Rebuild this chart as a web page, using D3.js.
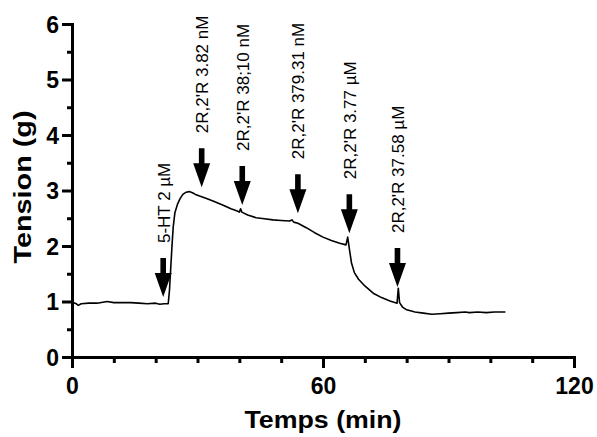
<!DOCTYPE html>
<html>
<head>
<meta charset="utf-8">
<script src="https://cdn.jsdelivr.net/npm/d3@7"></script>
<style>
  body { margin: 0; background: #fff; }
  svg { display: block; }
  .trace { fill: none; stroke: #000; stroke-width: 1.6px; stroke-linejoin: round; }
</style>
</head>
<body>
<div id="chart"></div>
<script>

// trace: time (min), tension (g)
var traceT = [0, 1.0, 1.5, 2.2, 4, 6, 8.4, 10, 12, 14, 16, 18, 20, 21, 22, 23.0,
    23.3, 23.6, 23.9, 24.2, 24.6, 25.2, 25.8, 26.5, 27.3, 28, 28.8, 29.5, 30.5, 32, 34, 36, 38, 39.5,
    40.0, 40.3, 40.6, 42, 44, 46, 48, 50, 52, 52.6, 53, 54, 56, 58, 60, 62, 64, 65.5,
    65.9, 66.3, 66.8, 67.5, 68.5, 70, 72, 74, 76, 77.7, 78.0, 78.3, 79, 80, 82, 84, 86,
    88, 90, 92, 94, 95, 97, 99, 101, 103.6];
var traceV = [0.99, 0.96, 0.93, 0.96, 0.97, 0.97, 1.0, 0.98, 0.98, 0.98, 0.97, 0.96, 0.97, 0.95, 0.96, 0.96,
    1.2, 1.6, 2.0, 2.35, 2.6, 2.75, 2.85, 2.93, 2.97, 2.98, 2.96, 2.93, 2.90, 2.86, 2.80, 2.74, 2.67, 2.63,
    2.61, 2.67, 2.61, 2.56, 2.51, 2.49, 2.47, 2.46, 2.45, 2.47, 2.43, 2.41, 2.33, 2.24, 2.16, 2.10, 2.05, 2.02,
    2.16, 1.95, 1.70, 1.52, 1.40, 1.28, 1.15, 1.07, 1.01, 0.97, 1.24, 0.98, 0.90, 0.85, 0.81, 0.79, 0.77,
    0.78, 0.79, 0.80, 0.81, 0.80, 0.81, 0.80, 0.81, 0.81];

// additions (arrow time, arrow tip tension, label)
var addT = [21.8, 31, 40.7, 54, 66.3, 77.8];
var addV = [1.08, 3.06, 2.74, 2.59, 2.23, 1.26];
var addLabels = ["5-HT 2 \u00b5M", "2R,2'R 3.82 nM", "2R,2'R 38;10 nM", "2R,2'R 379.31 nM",
    "2R,2'R 3.77 \u00b5M", "2R,2'R 37.58 \u00b5M"];

var xTicks = [0, 10, 20, 30, 40, 50, 60, 70, 80, 90, 100, 110, 120];
var xLabelled = [0, 60, 120];
var yTicks = [0, 0.5, 1, 1.5, 2, 2.5, 3, 3.5, 4, 4.5, 5, 5.5, 6];

var W = 597, H = 437;
var font = "'Liberation Sans', Arial, sans-serif";

var svg = d3.select("#chart").append("svg")
    .attr("width", W)
    .attr("height", H);

var x = d3.scaleLinear().domain([0, 120]).range([72, 574]);
var y = d3.scaleLinear().domain([0, 6]).range([357, 24]);

var xAxis = d3.axisBottom(x)
    .tickValues(xTicks)
    .tickSizeOuter(0)
    .tickSize(11)
    .tickPadding(10)
    .tickFormat(d => xLabelled.indexOf(d) >= 0 ? d : "");

var yAxis = d3.axisLeft(y)
    .tickValues(yTicks)
    .tickSizeOuter(0)
    .tickSize(10)
    .tickPadding(3)
    .tickFormat(d => d % 1 === 0 ? d : "");

var gx = svg.append("g")
    .attr("class", "axis axis--x")
    .attr("transform", "translate(0," + y(0) + ")")
    .call(xAxis);
gx.selectAll(".tick line").filter(d => d % 60 !== 0).attr("y2", 6);

var gy = svg.append("g")
    .attr("class", "axis axis--y")
    .attr("transform", "translate(" + x(0) + ",0)")
    .call(yAxis);
gy.selectAll(".tick line").filter(d => d % 1 !== 0).attr("x2", -5);
gy.selectAll(".tick text").attr("dy", "0.36em");

svg.selectAll(".axis path, .axis line")
    .attr("stroke", "#000")
    .attr("stroke-width", 3);
svg.selectAll(".axis text")
    .attr("fill", "#000")
    .attr("font-family", font)
    .attr("font-weight", "bold")
    .attr("font-size", 23);

// trace
var line = d3.line()
    .x((d, i) => x(traceT[i]))
    .y(d => y(d));

svg.append("path")
    .attr("class", "trace")
    .attr("d", line(traceV));

// arrows + labels
var headH = 24, headW = 8.5, shaftW = 2.8, arrowL = 39, gap = 15;

addT.forEach(function(t, i) {
    var ax = x(t), ay = y(addV[i]);
    var pts = [
        [ax, ay],
        [ax - headW, ay - headH],
        [ax - shaftW, ay - headH],
        [ax - shaftW, ay - arrowL],
        [ax + shaftW, ay - arrowL],
        [ax + shaftW, ay - headH],
        [ax + headW, ay - headH]
    ];
    svg.append("path")
        .attr("d", "M" + pts.join("L") + "Z")
        .attr("fill", "#000");

    svg.append("text")
        .attr("font-family", font)
        .attr("font-size", 17)
        .attr("transform", "translate(" + (ax + 6.5) + "," + (ay - arrowL - gap) + ") rotate(-90)")
        .text(addLabels[i]);
});

// axis titles
svg.append("text")
    .attr("font-family", font)
    .attr("font-weight", "bold")
    .attr("font-size", 23)
    .attr("text-anchor", "middle")
    .attr("transform", "translate(31,187) rotate(-90)")
    .attr("textLength", 153)
    .attr("lengthAdjust", "spacingAndGlyphs")
    .text("Tension (g)");

svg.append("text")
    .attr("font-family", font)
    .attr("font-weight", "bold")
    .attr("font-size", 23)
    .attr("text-anchor", "middle")
    .attr("x", 323)
    .attr("y", 428)
    .attr("textLength", 157)
    .attr("lengthAdjust", "spacingAndGlyphs")
    .text("Temps (min)");

</script>
</body>
</html>
